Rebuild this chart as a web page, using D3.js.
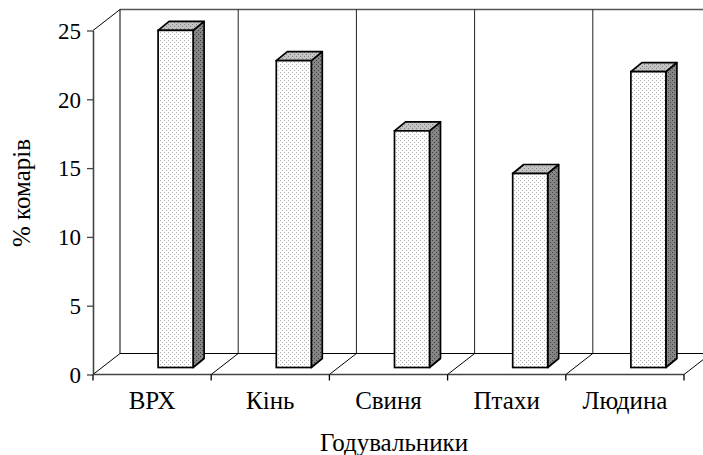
<!DOCTYPE html>
<html>
<head>
<meta charset="utf-8">
<script src="https://cdn.jsdelivr.net/npm/d3@7"></script>
<style>
  body { margin: 0; background: #fff; }
  svg text { font-family: "Liberation Serif", "Times New Roman", serif; fill: #000; }
</style>
</head>
<body>
<div class="chart"></div>
<script>
// data
const categories = ["ВРХ", "Кінь", "Свиня", "Птахи", "Людина"];
const values = [24.5, 22.3, 17.2, 14.1, 21.5];
const yTicks = [0, 5, 10, 15, 20, 25];
const yTitle = "% комарів";
const xTitle = "Годувальники";

const W = 703, H = 455;
const plotLeft = 93, plotRight = 684, plotBottom = 374.5, plotTop = 30.5;
const DX = 27, DY = -21;        // depth of the floor / walls
const barW = 35, bdx = 11, bdy = -9; // bar width and bar depth
const barShift = 6, barLift = 7; // where bars sit inside the floor

const svg = d3.select(".chart").append("svg")
    .attr("width", W)
    .attr("height", H);

// dotted fills like the Excel 3D columns
const defs = svg.append("defs");
function dots(id, bg, fg) {
    const p = defs.append("pattern")
        .attr("id", id)
        .attr("patternUnits", "userSpaceOnUse")
        .attr("width", 4).attr("height", 4);
    p.append("rect").attr("width", 4).attr("height", 4).attr("fill", bg);
    p.append("rect").attr("x", 0).attr("y", 0).attr("width", 1).attr("height", 1).attr("fill", fg);
    p.append("rect").attr("x", 2).attr("y", 2).attr("width", 1).attr("height", 1).attr("fill", fg);
}
dots("front", "#ffffff", "#b0b0b0");
dots("topf", "#c4c4c4", "#808080");
dots("side", "#858585", "#404040");

const y = d3.scaleLinear().domain([0, 25]).range([plotBottom, plotTop]);
const x = d3.scaleBand().domain(categories).range([plotLeft, plotRight]).padding(0);
const bw = x.bandwidth();
const edges = categories.map(c => x(c)).concat([plotRight]);

// back wall
const g = svg.append("g");
g.append("line")
    .attr("x1", plotLeft + DX).attr("x2", W + 10)
    .attr("y1", plotTop + DY).attr("y2", plotTop + DY)
    .attr("stroke", "#555").attr("stroke-width", 1.5);
g.append("line")
    .attr("x1", plotLeft).attr("y1", plotTop)
    .attr("x2", plotLeft + DX).attr("y2", plotTop + DY)
    .attr("stroke", "#000");
g.selectAll(".vgrid")
    .data(edges)
    .enter().append("line")
    .attr("class", "vgrid")
    .attr("x1", d => d + DX).attr("x2", d => d + DX)
    .attr("y1", plotTop + DY).attr("y2", plotBottom + DY)
    .attr("stroke", (d, i) => i === 0 ? "#000" : "#222")
    .attr("stroke-width", 1);

// floor
g.append("line")
    .attr("x1", plotLeft + DX).attr("x2", W + 10)
    .attr("y1", plotBottom + DY).attr("y2", plotBottom + DY)
    .attr("stroke", "#000");
g.selectAll(".diag")
    .data(edges)
    .enter().append("line")
    .attr("class", "diag")
    .attr("x1", d => d).attr("y1", plotBottom)
    .attr("x2", d => d + DX).attr("y2", plotBottom + DY)
    .attr("stroke", "#000");

// bars
const bars = svg.selectAll(".bar")
    .data(categories.map((c, i) => ({ name: c, value: values[i] })))
    .enter().append("g")
    .attr("class", "bar");

const bx = d => x(d.name) + bw / 2 + barShift;
const by0 = y(0) - barLift;
const by1 = d => y(d.value) - barLift;

bars.append("path")
    .attr("d", d => `M${bx(d) + barW},${by0} L${bx(d) + barW + bdx},${by0 + bdy} L${bx(d) + barW + bdx},${by1(d) + bdy} L${bx(d) + barW},${by1(d)} Z`)
    .attr("fill", "url(#side)").attr("stroke", "#000").attr("stroke-width", 1.7)
    .attr("stroke-linejoin", "round");
bars.append("path")
    .attr("d", d => `M${bx(d)},${by1(d)} L${bx(d) + bdx},${by1(d) + bdy} L${bx(d) + barW + bdx},${by1(d) + bdy} L${bx(d) + barW},${by1(d)} Z`)
    .attr("fill", "url(#topf)").attr("stroke", "#000").attr("stroke-width", 1.7)
    .attr("stroke-linejoin", "round");
bars.append("rect")
    .attr("x", d => bx(d))
    .attr("y", d => by1(d))
    .attr("width", barW)
    .attr("height", d => by0 - by1(d))
    .attr("fill", "url(#front)").attr("stroke", "#000").attr("stroke-width", 1.7);

// front axes
const yAxis = d3.axisLeft(y).tickValues(yTicks).tickSize(6).tickSizeOuter(0).tickPadding(6);
const ya = svg.append("g")
    .attr("transform", "translate(" + plotLeft + ",0)")
    .call(yAxis);
ya.select(".domain").attr("stroke", "#444").attr("stroke-width", 1.6);
ya.selectAll(".tick line").attr("stroke", "#444").attr("stroke-width", 1.3);
ya.selectAll("text").style("font-size", "23px").attr("dy", "0.34em");

const xa = svg.append("g");
xa.append("line")
    .attr("x1", plotLeft).attr("x2", plotRight)
    .attr("y1", plotBottom).attr("y2", plotBottom)
    .attr("stroke", "#444").attr("stroke-width", 1.6);
xa.selectAll(".xtick")
    .data(edges)
    .enter().append("line")
    .attr("x1", d => d).attr("x2", d => d)
    .attr("y1", plotBottom).attr("y2", plotBottom + 6)
    .attr("stroke", "#000").attr("stroke-width", 1.3);
xa.selectAll(".xlab")
    .data(categories)
    .enter().append("text")
    .attr("x", d => x(d) + bw / 2)
    .attr("y", 409)
    .attr("text-anchor", "middle")
    .style("font-size", "25px")
    .text(d => d);

// titles
svg.append("text")
    .attr("transform", "translate(30,193) rotate(-90)")
    .attr("text-anchor", "middle")
    .style("font-size", "25px")
    .text(yTitle);
svg.append("text")
    .attr("x", 394)
    .attr("y", 451)
    .attr("text-anchor", "middle")
    .style("font-size", "25px")
    .text(xTitle);
</script>
</body>
</html>
